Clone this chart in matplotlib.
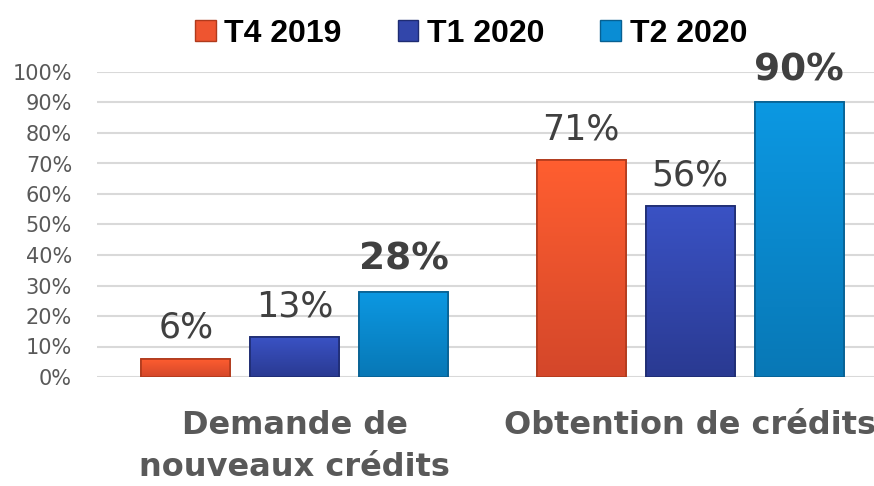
import matplotlib
matplotlib.use("Agg")
import matplotlib.pyplot as plt
from matplotlib.patches import Patch
from matplotlib.colors import LinearSegmentedColormap
import numpy as np

categories = ["Demande de\nnouveaux crédits", "Obtention de crédits"]
series_names = ["T4 2019", "T1 2020", "T2 2020"]
values = {
    "T4 2019": [6, 71],
    "T1 2020": [13, 56],
    "T2 2020": [28, 90],
}
bold_series = ["T2 2020"]
yticks = [0, 10, 20, 30, 40, 50, 60, 70, 80, 90, 100]

colors = {"T4 2019": "#EE5530", "T1 2020": "#3246AA", "T2 2020": "#0A8DD4"}
tops = {"T4 2019": "#FF5E30", "T1 2020": "#3A52C4", "T2 2020": "#0C98E2"}
bottoms = {"T4 2019": "#D4472A", "T1 2020": "#2A3A92", "T2 2020": "#0878B6"}
edges = {"T4 2019": "#B03A1C", "T1 2020": "#1E2C72", "T2 2020": "#076092"}

fig = plt.figure(figsize=(8.74, 4.86), dpi=100)
ax = fig.add_axes([97/874, (486-377)/486, 1 - 97/874, (377-72)/486])

x = np.arange(len(categories))
width = 0.225
step = 0.2756
xlim = (-0.5, 1 + (874 - 690) / 395.5)
grad = np.linspace(1, 0, 64).reshape(-1, 1)
for i, s in enumerate(series_names):
    pos = x + (i - 1) * step
    bars = ax.bar(pos, values[s], width, color=colors[s], edgecolor=edges[s],
                  linewidth=1.2, zorder=3)
    cmap = LinearSegmentedColormap.from_list(s, [bottoms[s], tops[s]])
    for b in bars:
        bx, by = b.get_x(), b.get_y()
        im = ax.imshow(grad, cmap=cmap, aspect="auto", zorder=3.5,
                       extent=(bx, bx + b.get_width(), by, by + b.get_height()),
                       interpolation="bicubic")
        im.set_clip_path(b)
    ax.bar(pos, values[s], width, facecolor="none", edgecolor=edges[s],
           linewidth=1.2, zorder=3.6)
    for p, v in zip(pos, values[s]):
        isb = s in bold_series
        ax.annotate(f"{v}%", (p, v), xytext=(0, 10), textcoords="offset points",
                    ha="center", va="bottom", fontsize=27 if isb else 25,
                    fontweight="bold" if isb else "normal",
                    color="#404040", zorder=4)

ax.set_ylim(0, 100)
ax.set_xlim(*xlim)
ax.set_yticks(yticks)
ax.set_yticklabels([f"{t}%" for t in yticks], fontsize=15, color="#595959")
ax.yaxis.grid(True, color="#D9D9D9", linewidth=1.5, zorder=0)
ax.tick_params(axis="y", length=0, pad=18)
ax.set_xticks(x)
ax.set_xticklabels(categories, fontsize=23, fontweight="bold", color="#595959",
                   linespacing=1.45)
ax.tick_params(axis="x", length=0, pad=24)
for sp in ax.spines.values():
    sp.set_visible(False)

handles = [Patch(facecolor=colors[s], edgecolor=edges[s], label=s) for s in series_names]
leg = fig.legend(handles=handles, loc="upper center", bbox_to_anchor=(0.539, 1.02),
                 ncol=3, frameon=False, handlelength=0.65, handleheight=0.65,
                 handletextpad=0.27, columnspacing=1.75,
                 prop={"family": ["Liberation Sans", "DejaVu Sans"],
                       "weight": "bold", "size": 23})

fig.savefig("out.png", dpi=100)
